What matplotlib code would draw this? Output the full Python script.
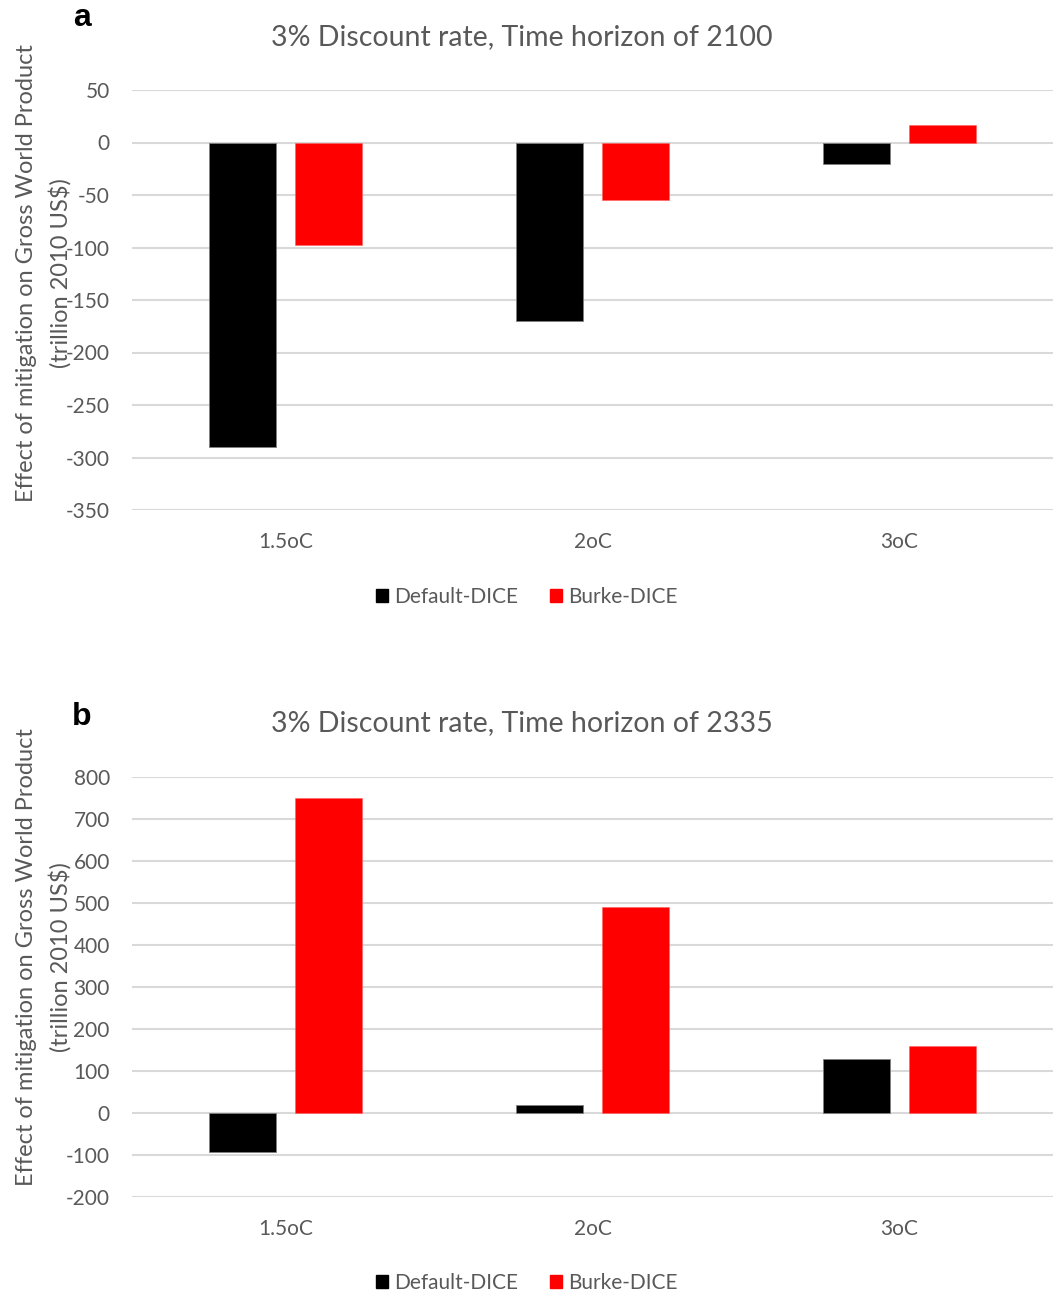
#!/usr/bin/env python
# Two-panel bar chart: effect of mitigation on Gross World Product

import numpy as np
import matplotlib as mpl
mpl.use("Agg")
from matplotlib import pyplot as plt
from matplotlib.patches import Patch

# data
categories = ["1.5oC", "2oC", "3oC"]
default_2100 = [-290, -170, -20]
burke_2100 = [-98, -55, 17]
default_2335 = [-92, 20, 128]
burke_2335 = [750, 490, 160]

titles = ["3% Discount rate, Time horizon of 2100",
          "3% Discount rate, Time horizon of 2335"]
panel_letters = ["a", "b"]
yticks_a = [50, 0, -50, -100, -150, -200, -250, -300, -350]
yticks_b = [800, 700, 600, 500, 400, 300, 200, 100, 0, -100, -200]
series_names = ["Default-DICE", "Burke-DICE"]

# style
W, H = 1058, 1293
GREY = "#595959"
GRID = "#d9d9d9"
COLORS = ["#000000", "#ff0000"]
FONT = "Lato"
BAR_W = 0.22
OFFSET = 0.14

plt.rcParams["font.family"] = [FONT, "DejaVu Sans"]

fig = plt.figure(figsize=(W / 100, H / 100), dpi=100)


def px_axes(left, top, right, bottom):
    return fig.add_axes([left / W, 1 - bottom / H, (right - left) / W,
                         (bottom - top) / H])


def draw_panel(ax, d_vals, b_vals, yticks, title, letter, title_y, letter_y,
               legend_y, ylab_y):
    x = np.arange(len(categories))
    ax.bar(x - OFFSET, d_vals, BAR_W, color=COLORS[0], edgecolor="#7f7f7f",
           linewidth=0.6, zorder=3)
    ax.bar(x + OFFSET, b_vals, BAR_W, color=COLORS[1], edgecolor="#ff6060",
           linewidth=0.4, zorder=3)
    ax.set_xlim(-0.5, len(categories) - 0.5)
    ax.set_ylim(min(yticks), max(yticks))
    ax.set_yticks(yticks)
    ax.set_yticklabels([str(t) for t in yticks])
    ax.set_xticks(x)
    ax.set_xticklabels(categories)
    ax.grid(axis="y", color=GRID, linewidth=1.5, zorder=0)
    ax.set_axisbelow(True)
    for s in ax.spines.values():
        s.set_visible(False)
    ax.tick_params(axis="both", length=0, labelsize=15, labelcolor=GREY)
    ax.tick_params(axis="y", pad=16)
    ax.tick_params(axis="x", pad=16)

    fig.text(522 / W, 1 - title_y / H, title, ha="center", va="center",
             fontsize=20.5, color=GREY)
    fig.text(82 / W, 1 - letter_y / H, letter, ha="center", va="center",
             fontsize=23, fontweight="bold", family="Liberation Sans",
             color="black")
    fig.text(27 / W, 1 - ylab_y / H,
             "Effect of mitigation on Gross World Product",
             rotation=90, ha="center", va="center", fontsize=17, color=GREY)
    fig.text(60 / W, 1 - ylab_y / H, "(trillion 2010 US$)",
             rotation=90, ha="center", va="center", fontsize=17, color=GREY)

    handles = [Patch(facecolor=c, edgecolor=c) for c in COLORS]
    fig.legend(handles, series_names, loc="center",
               bbox_to_anchor=(527 / W, 1 - legend_y / H), ncol=2,
               frameon=False, fontsize=15, labelcolor=GREY,
               handlelength=0.6, handleheight=0.6, handletextpad=0.3,
               columnspacing=1.5)


ax_a = px_axes(132, 90, 1053, 510)
draw_panel(ax_a, default_2100, burke_2100, yticks_a, titles[0],
           panel_letters[0], 37, 18, 597, 273)

ax_b = px_axes(132, 777, 1053, 1197)
draw_panel(ax_b, default_2335, burke_2335, yticks_b, titles[1],
           panel_letters[1], 723, 717, 1283, 957)

fig.savefig("out.png", dpi=100)
